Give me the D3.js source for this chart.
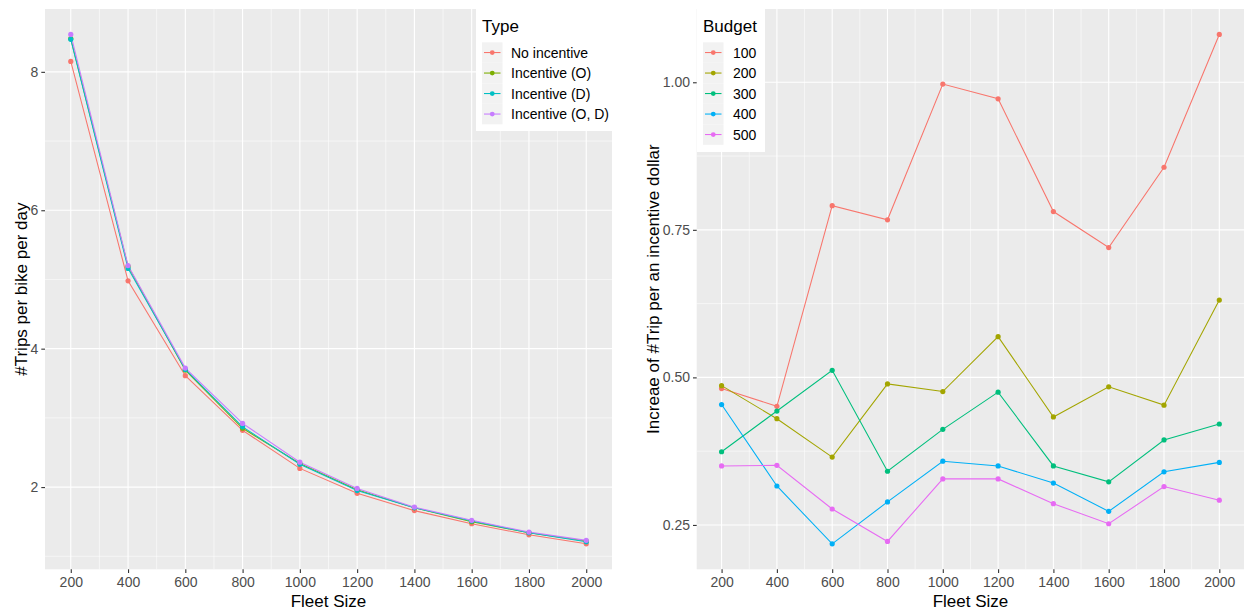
<!DOCTYPE html>
<html>
<head>
<meta charset="utf-8">
<script src="https://cdn.jsdelivr.net/npm/d3@7/dist/d3.min.js"></script>
<style>
  html, body { margin: 0; padding: 0; background: #fff; }
  svg { display: block; font-family: "Liberation Sans", Arial, sans-serif; }
</style>
</head>
<body>
<svg id="chart" width="1244" height="610"></svg>
<script>
// Fleet sizes shared by both panels
const fleetSizes = [200, 400, 600, 800, 1000, 1200, 1400, 1600, 1800, 2000];
const xTicks = [200, 400, 600, 800, 1000, 1200, 1400, 1600, 1800, 2000];

// Left panel: trips per bike per day by incentive type
const typeNames = ["No incentive", "Incentive (O)", "Incentive (D)", "Incentive (O, D)"];
const typeColors = ["#F8766D", "#7CAE00", "#00BFC4", "#C77CFF"];
const tripsNoIncentive = [8.15, 4.98, 3.61, 2.82, 2.27, 1.91, 1.66, 1.47, 1.31, 1.18];
const tripsIncentiveO  = [8.48, 5.19, 3.69, 2.85, 2.34, 1.96, 1.70, 1.50, 1.34, 1.22];
const tripsIncentiveD  = [8.47, 5.16, 3.70, 2.87, 2.33, 1.95, 1.70, 1.51, 1.34, 1.21];
const tripsIncentiveOD = [8.54, 5.20, 3.72, 2.92, 2.36, 1.98, 1.71, 1.52, 1.35, 1.23];
const leftYTicks = [2, 4, 6, 8];
const leftYMinor = [1, 3, 5, 7];

// Right panel: trip increase per incentive dollar by budget
const budgetNames = ["100", "200", "300", "400", "500"];
const budgetColors = ["#F8766D", "#A3A500", "#00BF7D", "#00B0F6", "#E76BF3"];
const budget100 = [0.481, 0.451, 0.791, 0.767, 0.997, 0.972, 0.781, 0.720, 0.856, 1.081];
const budget200 = [0.486, 0.430, 0.365, 0.489, 0.476, 0.569, 0.433, 0.484, 0.453, 0.631];
const budget300 = [0.374, 0.443, 0.512, 0.341, 0.412, 0.475, 0.350, 0.323, 0.394, 0.421];
const budget400 = [0.454, 0.316, 0.218, 0.289, 0.358, 0.350, 0.321, 0.273, 0.340, 0.356];
const budget500 = [0.350, 0.351, 0.277, 0.222, 0.328, 0.328, 0.286, 0.252, 0.315, 0.292];
const rightYTicks = [0.25, 0.50, 0.75, 1.00];
const rightYMinor = [0.375, 0.625, 0.875];

const svg = d3.select("#chart");

function drawPanel(cfg) {
  const { left, right, top, bottom } = cfg;
  const g = svg.append("g");

  const x = d3.scaleLinear().domain([110, 2090]).range([left, right]);
  const all = cfg.series.flat();
  const lo = d3.min(all), hi = d3.max(all), pad = (hi - lo) * 0.05;
  const y = d3.scaleLinear().domain([lo - pad, hi + pad]).range([bottom, top]);

  // panel background
  g.append("rect").attr("x", left).attr("y", top)
    .attr("width", right - left).attr("height", bottom - top).attr("fill", "#EBEBEB");

  // minor gridlines
  const xMinor = d3.range(300, 2000, 200);
  g.selectAll(".xmin").data(xMinor).join("line")
    .attr("x1", d => x(d)).attr("x2", d => x(d)).attr("y1", top).attr("y2", bottom)
    .attr("stroke", "#fff").attr("stroke-width", 0.55);
  g.selectAll(".ymin").data(cfg.yMinor).join("line")
    .attr("y1", d => y(d)).attr("y2", d => y(d)).attr("x1", left).attr("x2", right)
    .attr("stroke", "#fff").attr("stroke-width", 0.55);
  // major gridlines
  g.selectAll(".xmaj").data(xTicks).join("line")
    .attr("x1", d => x(d)).attr("x2", d => x(d)).attr("y1", top).attr("y2", bottom)
    .attr("stroke", "#fff").attr("stroke-width", 1.1);
  g.selectAll(".ymaj").data(cfg.yTicks).join("line")
    .attr("y1", d => y(d)).attr("y2", d => y(d)).attr("x1", left).attr("x2", right)
    .attr("stroke", "#fff").attr("stroke-width", 1.1);

  // axes
  const xAxis = d3.axisBottom(x).tickValues(xTicks).tickSize(3.7).tickPadding(4)
    .tickFormat(d3.format("d"));
  const xg = g.append("g").attr("transform", `translate(0,${bottom})`).call(xAxis);
  const yAxis = d3.axisLeft(y).tickValues(cfg.yTicks).tickSize(3.7).tickPadding(3)
    .tickFormat(cfg.yFormat);
  const yg = g.append("g").attr("transform", `translate(${left},0)`).call(yAxis);
  [xg, yg].forEach(a => {
    a.select(".domain").remove();
    a.selectAll(".tick line").attr("stroke", "#333").attr("stroke-width", 1.1);
    a.selectAll(".tick text").attr("fill", "#4D4D4D").style("font-size", "14px")
      .style("font-family", "'Liberation Sans', Arial, sans-serif");
  });

  // axis titles
  g.append("text").attr("x", (left + right) / 2).attr("y", 607)
    .attr("text-anchor", "middle").style("font-size", "17px").attr("fill", "#000")
    .text("Fleet Size");
  g.append("text")
    .attr("transform", `translate(${cfg.yTitleX},${(top + bottom) / 2}) rotate(-90)`)
    .attr("text-anchor", "middle").style("font-size", "17px").attr("fill", "#000")
    .text(cfg.yTitle);

  // lines and points
  const line = d3.line().x((d, i) => x(fleetSizes[i])).y(d => y(d));
  const clipId = "clip" + cfg.id;
  svg.append("clipPath").attr("id", clipId).append("rect")
    .attr("x", left).attr("y", top).attr("width", right - left).attr("height", bottom - top);
  const marks = g.append("g").attr("clip-path", `url(#${clipId})`);
  cfg.series.forEach((s, k) => {
    marks.append("path").datum(s).attr("d", line).attr("fill", "none")
      .attr("stroke", cfg.colors[k]).attr("stroke-width", 1.07);
  });
  cfg.series.forEach((s, k) => {
    marks.selectAll(null).data(s).join("circle")
      .attr("cx", (d, i) => x(fleetSizes[i])).attr("cy", d => y(d)).attr("r", 2.6)
      .attr("fill", cfg.colors[k]);
  });

  // legend
  const L = cfg.legend;
  const lg = g.append("g");
  lg.append("rect").attr("x", L.x).attr("y", L.y).attr("width", L.w).attr("height", L.h)
    .attr("fill", "#fff");
  lg.append("text").attr("x", L.x + 6).attr("y", L.y + 23).style("font-size", "17px")
    .attr("fill", "#000").text(L.title);
  const keyX = L.x + 6, keyY = L.y + 33.3, keyW = 20.5, keyH = 20.5;
  cfg.names.forEach((n, k) => {
    const ky = keyY + k * keyH;
    lg.append("rect").attr("x", keyX).attr("y", ky).attr("width", keyW).attr("height", keyH)
      .attr("fill", "#F2F2F2");
    lg.append("line").attr("x1", keyX + 2).attr("x2", keyX + keyW - 2)
      .attr("y1", ky + keyH / 2).attr("y2", ky + keyH / 2)
      .attr("stroke", cfg.colors[k]).attr("stroke-width", 1.07);
    lg.append("circle").attr("cx", keyX + keyW / 2).attr("cy", ky + keyH / 2).attr("r", 2.4)
      .attr("fill", cfg.colors[k]);
    lg.append("text").attr("x", keyX + keyW + L.labelGap).attr("y", ky + keyH / 2 + 5)
      .style("font-size", "14px").attr("fill", "#000").text(n);
  });
}

drawPanel({
  id: "L", left: 45, right: 612, top: 9, bottom: 569.3,
  series: [tripsNoIncentive, tripsIncentiveO, tripsIncentiveD, tripsIncentiveOD],
  colors: typeColors, names: typeNames,
  yTicks: leftYTicks, yMinor: leftYMinor, yFormat: d3.format("d"),
  yTitle: "#Trips per bike per day", yTitleX: 26.5,
  legend: { x: 476, y: 9, w: 136, h: 122, title: "Type", labelGap: 8.5 }
});

drawPanel({
  id: "R", left: 696.7, right: 1244.2, top: 9, bottom: 569.3,
  series: [budget100, budget200, budget300, budget400, budget500],
  colors: budgetColors, names: budgetNames,
  yTicks: rightYTicks, yMinor: rightYMinor, yFormat: d3.format(".2f"),
  yTitle: "Increae of #Trip per an incentive dollar", yTitleX: 659,
  legend: { x: 697, y: 9, w: 68, h: 143, title: "Budget", labelGap: 9.5 }
});
</script>
</body>
</html>
